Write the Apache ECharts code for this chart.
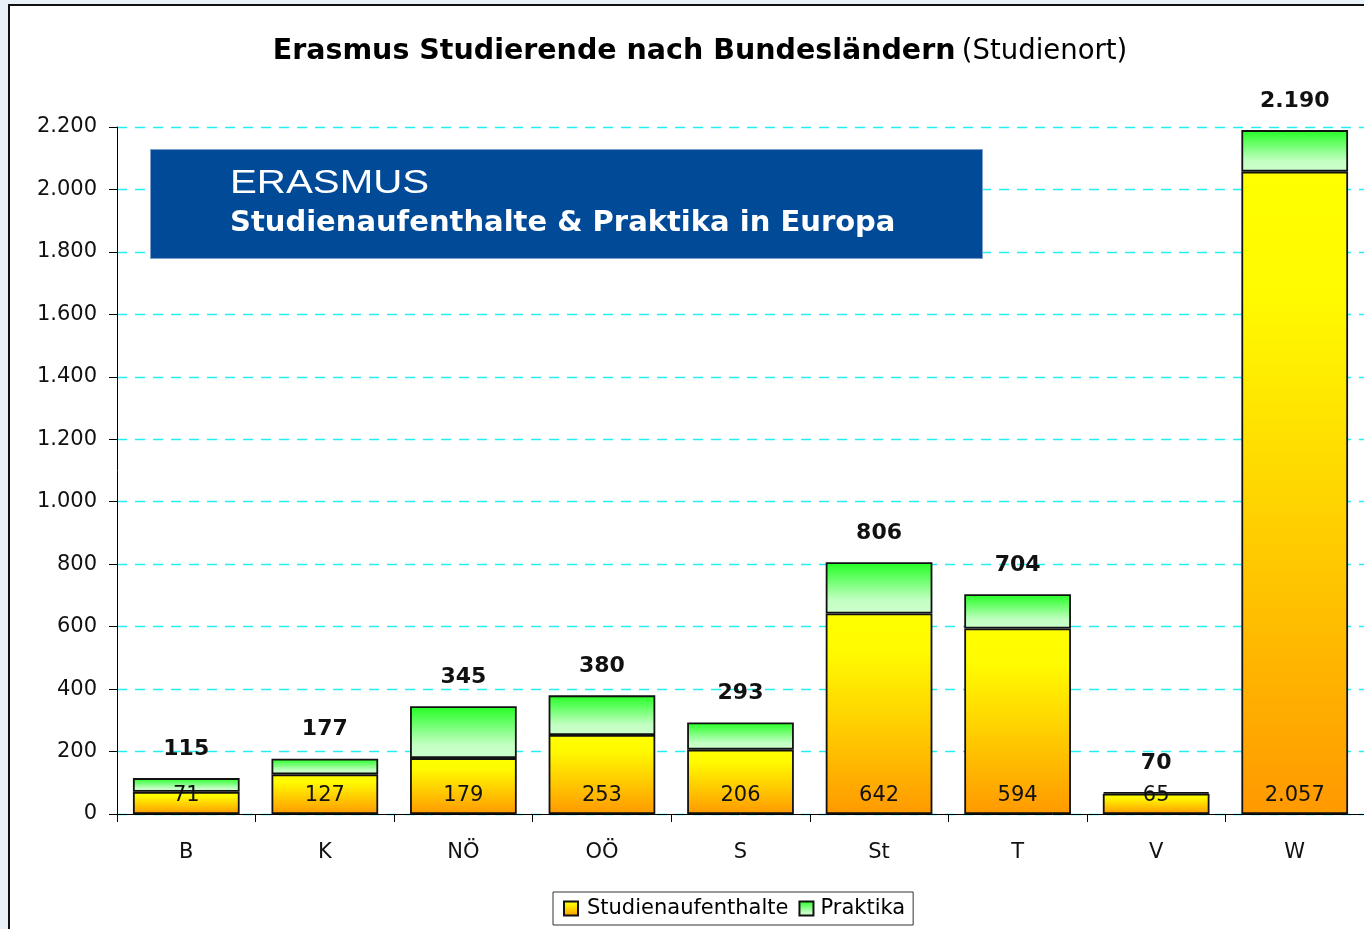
<!DOCTYPE html>
<html>
<head>
<meta charset="utf-8">
<script src="https://cdn.jsdelivr.net/npm/echarts@6/dist/echarts.min.js"></script>
<style>
html,body{margin:0;padding:0;width:1364px;height:929px;overflow:hidden;background:#e9f1f9;}
#frame{position:absolute;left:8px;top:4px;width:1400px;height:1000px;border:2px solid #111;background:#fff;}
#chart{position:absolute;left:0;top:0;width:1364px;height:929px;}
</style>
</head>
<body>
<div id="frame"></div>
<div id="chart"></div>
<script>
var categories = ['B','K','NÖ','OÖ','S','St','T','V','W'];
var studienaufenthalte = [71,127,179,253,206,642,594,65,2057];
var praktika = [44,50,166,127,87,164,110,5,133];
var totals = [115,177,345,380,293,806,704,70,2190];
var yTicks = {min:0, max:2200, interval:200};

function fmt(v){ return String(v).replace(/\B(?=(\d{3})+(?!\d))/g,'.'); }
var FONT = 'DejaVu Sans';

var chart = echarts.init(document.getElementById('chart'), null, {renderer:'canvas'});
var orangeGrad = new echarts.graphic.LinearGradient(0,0,0,1,[{offset:0,color:'#ffff00'},{offset:0.2,color:'#fffa00'},{offset:1,color:'#ff9900'}]);
var greenGrad = new echarts.graphic.LinearGradient(0,0,0,1,[{offset:0,color:'#22ff22'},{offset:0.75,color:'#c4ffc4'},{offset:1,color:'#ccffcc'}]);

chart.setOption({
  animation:false,
  backgroundColor:'transparent',
  textStyle:{fontFamily:FONT},
  title:{
    text:'{b|Erasmus Studierende nach Bundesländern} {n|(Studienort)}',
    left:695, top:32, textAlign:'center',
    textStyle:{rich:{
      b:{fontFamily:FONT,fontSize:28.5,fontWeight:'bold',color:'#000'},
      n:{fontFamily:FONT,fontSize:27.5,fontWeight:'normal',color:'#000'}
    }}
  },
  legend:{
    left:553, top:892, itemWidth:14, itemHeight:14, itemGap:10, icon:'rect',
    padding:[6,8,6,10], borderColor:'#333', borderWidth:1, backgroundColor:'#fff',
    formatter:function(n){ return n==='Studienaufenthalte' ? '{s|'+n+'}' : '{p|'+n+'}'; },
    textStyle:{fontFamily:FONT,fontSize:21,color:'#000',
      rich:{
        s:{fontFamily:FONT,fontSize:21,color:'#000',width:216,padding:[0,0,0,4]},
        p:{fontFamily:FONT,fontSize:21,color:'#000',width:86,padding:[0,0,0,2]}
      }},
    data:['Studienaufenthalte','Praktika']
  },
  grid:{left:117, right:0, top:127, bottom:115, containLabel:false},
  xAxis:{
    type:'category', data:categories,
    axisLine:{lineStyle:{color:'#000',width:1}},
    axisTick:{show:true,length:8,lineStyle:{color:'#000'}},
    axisLabel:{fontFamily:FONT,fontSize:21,color:'#111',margin:28}
  },
  yAxis:{
    type:'value', min:yTicks.min, max:yTicks.max, interval:yTicks.interval,
    axisLine:{show:true,lineStyle:{color:'#000',width:1}},
    axisTick:{show:true,length:8,lineStyle:{color:'#000'}},
    axisLabel:{fontFamily:FONT,fontSize:21,color:'#111',margin:20,formatter:function(v){return fmt(v);}},
    splitLine:{show:true,lineStyle:{color:'#22eef4',width:1.3,type:[10,8]}}
  },
  series:[
    {
      name:'Studienaufenthalte', type:'bar', stack:'t', data:studienaufenthalte,
      barCategoryGap:'23%',
      itemStyle:{color:orangeGrad,borderColor:'#111',borderWidth:1.8},
      label:{show:true,position:'insideBottom',distance:8,fontFamily:FONT,fontSize:21,color:'#111',
        formatter:function(p){return fmt(p.value);}}
    },
    {
      name:'Praktika', type:'bar', stack:'t', data:praktika,
      itemStyle:{color:greenGrad,borderColor:'#111',borderWidth:1.8},
      label:{show:true,position:'top',distance:18,fontFamily:FONT,fontSize:22,fontWeight:'bold',color:'#111',
        formatter:function(p){return fmt(totals[p.dataIndex]);}}
    }
  ],
  graphic:[
    {type:'rect',left:150,top:149,shape:{width:832,height:109},style:{fill:'#004a98',stroke:'#7f9fcc',lineWidth:1},z:10},
    {type:'text',left:230,top:167,z:11,style:{text:'ERASMUS',fill:'#fff',font:'normal 33px "Liberation Sans"'},scaleX:1.22},
    {type:'text',left:230,top:209,z:11,style:{text:'Studienaufenthalte & Praktika in Europa',fill:'#fff',font:'bold 29px "DejaVu Sans"'}}
  ]
});
</script>
</body>
</html>
